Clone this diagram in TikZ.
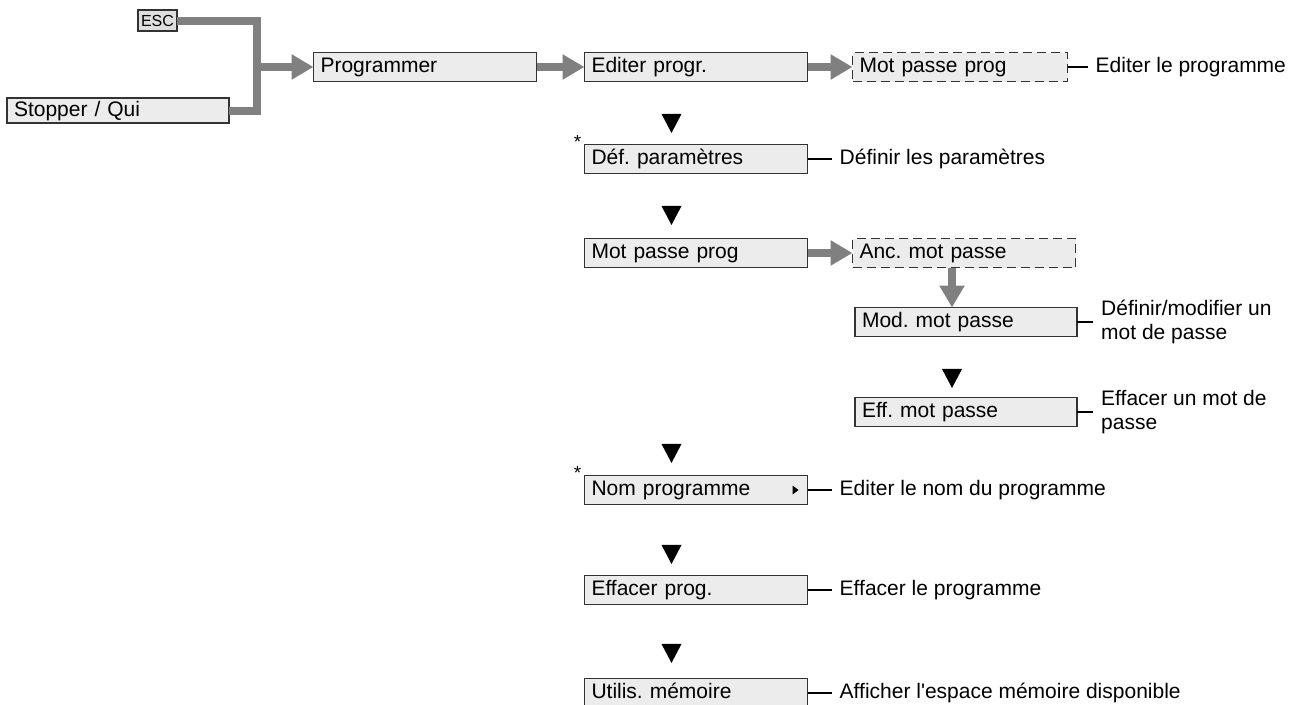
\documentclass[tikz,border=0pt]{standalone}
\usepackage{fontspec}
\setmainfont{Liberation Sans}[Ligatures=TeXOff]
\usetikzlibrary{arrows.meta,positioning,shapes.geometric}
\frenchspacing

\begin{document}
\begin{tikzpicture}[
  x=1pt, y=-1pt,
  node distance=45pt,
  menu/.style={draw=black!80, line width=1.3pt, fill=gray!15, align=left,
               font=\fontsize{21}{24}\selectfont, text width=209pt,
               text height=15pt, text depth=4pt, inner xsep=7pt, inner ysep=2pt,
               minimum height=29pt, outer sep=0pt},
  pointille/.style={menu, dash pattern=on 9pt off 5pt},
  touche/.style={draw=black!80, line width=1.3pt, fill=gray!25,
                 font=\fontsize{16}{18}\selectfont, outer sep=0pt,
                 minimum width=39pt, minimum height=21pt, inner sep=0pt},
  note/.style={align=left, font=\fontsize{21}{24}\selectfont,
               inner xsep=8pt, inner ysep=0pt},
  tri/.style={isosceles triangle, isosceles triangle stretches,
              shape border rotate=-90, fill=black, inner sep=0pt,
              minimum width=20pt, minimum height=19pt},
  etoile/.style={font=\fontsize{19}{20}\selectfont, inner sep=0pt},
  conduit/.style={draw=gray, line width=8pt},
  fleche/.style={conduit, -{Triangle[length=22pt, width=24pt]}},
  trait/.style={line width=2pt}
]
\useasboundingbox (0,0) rectangle (1306,704);

% entree dans le menu
\node[touche] (esc) at (157.5,20.5) {ESC};
\node[menu, text width=208pt, minimum height=25pt] (stop) at (118,110.5) {Stopper / Qui};
\node[menu] (prog) at (425,67) {Programmer};
\coordinate (join) at (257,67);

% colonne principale
\node[menu, right=48pt of prog] (edit) {Editer progr.};
\node[pointille, text width=201pt, right=of edit] (mpp1) {Mot passe prog};
\node[note, right=20pt of mpp1] (n1) {Editer le programme};
\node[menu, below=63pt of edit] (defp) {Déf. paramètres};
\node[note, right=24pt of defp] (n2) {Définir les paramètres};
\node[menu, below=65pt of defp] (mpp2) {Mot passe prog};
\node[pointille, right=of mpp2] (anc) {Anc. mot passe};
\node[menu, text width=208pt, below=40pt of anc, xshift=2pt] (mod) {Mod. mot passe};
\node[note, right=16pt of mod] (n3) {Définir/modifier un\\mot de passe};
\node[menu, text width=208pt, below=61pt of mod] (eff) {Eff. mot passe};
\node[note, right=16pt of eff] (n4) {Effacer un mot de\\passe};
\node[menu, below=208pt of mpp2] (nom) {Nom programme};
\node[note, right=24pt of nom] (n5) {Editer le nom du programme};
\node[menu, below=71pt of nom] (effp) {Effacer prog.};
\node[note, right=24pt of effp] (n6) {Effacer le programme};
\node[menu, below=74pt of effp] (util) {Utilis. mémoire};
\node[note, right=24pt of util] (n7) {Afficher l'espace mémoire disponible};

% triangles de navigation
\node[tri, above=11pt of defp.north west, xshift=87pt] (t1) {};
\node[tri, above=13pt of mpp2.north west, xshift=87pt] (t2) {};
\node[tri, above=9pt of eff.north west, xshift=97pt] (t3) {};
\node[tri, above=12pt of nom.north west, xshift=87pt] (t4) {};
\node[tri, above=11pt of effp.north west, xshift=87pt] (t5) {};
\node[tri, above=15pt of util.north west, xshift=87pt] (t6) {};
\node[etoile] (s1) at ([xshift=-7pt,yshift=3pt]defp.north west) {*};
\node[etoile] (s2) at ([xshift=-7pt,yshift=3pt]nom.north west) {*};
\fill ([xshift=-15pt,yshift=4.5pt]nom.east) -- ++(6pt,-4.5pt) -- ++(-6pt,-4.5pt) -- cycle;

% fleches grises
\draw[conduit] (esc.east) -| (join) |- (stop.east);
\draw[fleche] (join) -- (prog);
\draw[fleche] (prog) -- (edit);
\draw[fleche] (edit) -- (mpp1);
\draw[fleche] (mpp2) -- (anc);
\draw[fleche] ([xshift=-12pt]anc.south) -- ([xshift=-12pt]anc.south |- mod.north);

% traits vers les descriptions
\draw[trait] (mpp1) -- (n1);
\draw[trait] (defp) -- (n2);
\draw[trait] (mod) -- (n3);
\draw[trait] (eff) -- (n4);
\draw[trait] (nom) -- (n5);
\draw[trait] (effp) -- (n6);
\draw[trait] (util) -- (n7);
\end{tikzpicture}
\end{document}
